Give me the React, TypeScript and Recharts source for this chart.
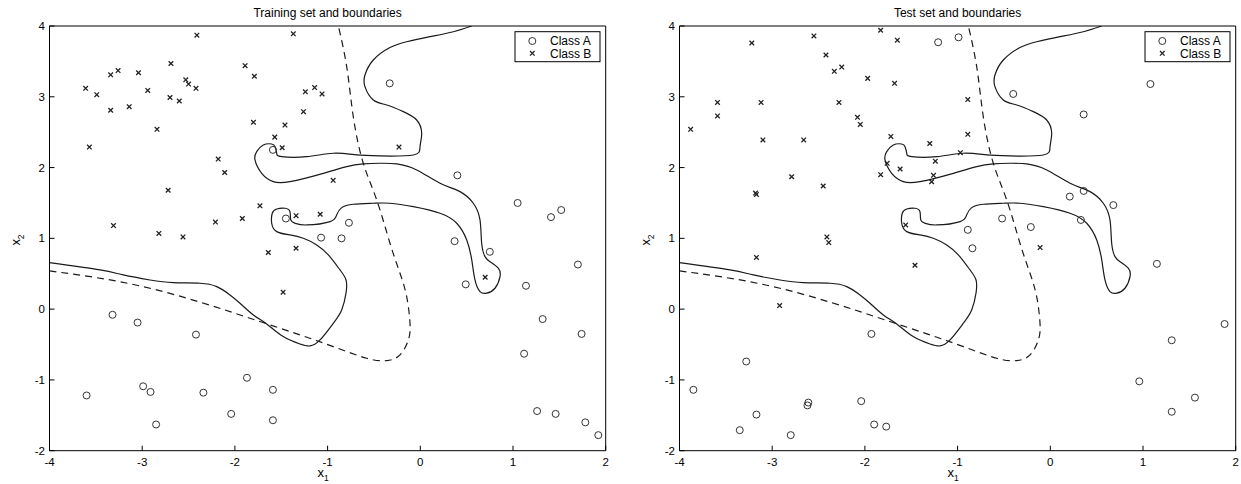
import React from 'react';
import { ComposedChart, Line, Scatter, XAxis, YAxis } from 'recharts';

const xTicks = [-4, -3, -2, -1, 0, 1, 2];
const yTicks = [-2, -1, 0, 1, 2, 3, 4];
const panelTitles = ['Training set and boundaries', 'Test set and boundaries'];
const legendLabels = ['Class A', 'Class B'];

const trainClassA: [number, number][] = [
  [-0.33, 3.19], [0.4, 1.89], [1.05, 1.5], [1.41, 1.3], [1.52, 1.4], [-0.77, 1.22], [-1.07, 1.01],
  [-0.85, 1.0], [0.37, 0.96], [0.75, 0.81], [0.49, 0.35], [1.14, 0.33], [1.7, 0.63], [1.32, -0.14],
  [1.74, -0.35], [1.12, -0.63], [1.26, -1.44], [1.46, -1.48], [1.78, -1.6], [1.92, -1.78],
  [-3.32, -0.08], [-3.05, -0.19], [-2.42, -0.36], [-3.6, -1.22], [-2.99, -1.09], [-2.91, -1.17],
  [-2.85, -1.63], [-2.34, -1.18], [-1.87, -0.97], [-2.04, -1.48], [-1.59, -1.14], [-1.59, -1.57],
  [-1.59, 2.25], [-1.45, 1.28],
];

const trainClassB: [number, number][] = [
  [-3.61, 3.12], [-3.49, 3.03], [-3.34, 3.31], [-3.26, 3.37], [-3.04, 3.34], [-3.34, 2.81],
  [-3.14, 2.86], [-2.94, 3.09], [-2.69, 3.47], [-2.7, 2.99], [-2.6, 2.94], [-2.53, 3.24],
  [-2.5, 3.18], [-2.42, 3.12], [-2.41, 3.87], [-2.84, 2.54], [-3.57, 2.29], [-2.72, 1.68],
  [-3.31, 1.18], [-2.82, 1.07], [-2.56, 1.02], [-2.21, 1.23], [-2.18, 2.12], [-2.11, 1.93],
  [-1.92, 1.28], [-1.89, 3.44], [-1.79, 3.29], [-1.8, 2.64], [-1.73, 1.46], [-1.57, 2.43],
  [-1.46, 2.6], [-1.49, 2.28], [-1.37, 3.89], [-1.26, 2.79], [-1.24, 3.07], [-1.14, 3.13],
  [-1.06, 3.04], [-1.34, 1.32], [-1.08, 1.34], [-1.34, 0.86], [-1.64, 0.8], [-1.48, 0.24],
  [-0.23, 2.29], [-0.94, 1.82], [0.7, 0.45],
];

const testClassA: [number, number][] = [
  [-1.21, 3.77], [-0.99, 3.84], [-0.4, 3.04], [0.36, 2.75], [1.08, 3.18], [0.21, 1.59], [0.36, 1.67],
  [0.68, 1.47], [0.33, 1.26], [-0.52, 1.28], [-0.21, 1.16], [-0.89, 1.12], [-0.84, 0.86], [1.15, 0.64],
  [1.88, -0.21], [1.31, -0.44], [0.96, -1.02], [1.56, -1.25], [1.31, -1.45], [-1.93, -0.35],
  [-3.28, -0.74], [-3.85, -1.14], [-3.17, -1.49], [-3.35, -1.71], [-2.61, -1.32], [-2.62, -1.36],
  [-2.8, -1.78], [-2.04, -1.3], [-1.9, -1.63], [-1.77, -1.66],
];

const testClassB: [number, number][] = [
  [-3.88, 2.54], [-3.59, 2.92], [-3.59, 2.73], [-3.22, 3.76], [-3.12, 2.92], [-3.1, 2.39],
  [-3.18, 1.64], [-3.17, 1.62], [-2.79, 1.87], [-2.66, 2.39], [-2.55, 3.86], [-2.42, 3.59],
  [-2.33, 3.36], [-2.25, 3.42], [-2.28, 2.92], [-2.45, 1.74], [-2.41, 1.02], [-2.39, 0.94],
  [-2.08, 2.71], [-2.05, 2.61], [-1.97, 3.26], [-1.83, 3.94], [-1.65, 3.8], [-1.68, 3.19],
  [-1.72, 2.44], [-1.83, 1.9], [-1.76, 2.06], [-1.62, 1.98], [-1.3, 2.34], [-1.24, 2.09],
  [-1.26, 1.89], [-1.28, 1.8], [-1.56, 1.19], [-3.17, 0.73], [-2.92, 0.05], [-1.46, 0.62],
  [-0.89, 2.96], [-0.89, 2.47], [-0.97, 2.21], [-0.11, 0.87],
];

const solidBoundary: [number, number][] = [
  [-4.0, 0.657], [-3.455, 0.554], [-3.204, 0.483], [-2.916, 0.412], [-2.666, 0.374], [-2.376, 0.366],
  [-2.196, 0.318], [-2.053, 0.201], [-1.945, 0.083], [-1.801, -0.082], [-1.657, -0.209],
  [-1.478, -0.388], [-1.298, -0.492], [-1.19, -0.52], [-1.082, -0.435], [-0.938, -0.199],
  [-0.848, -0.011], [-0.801, 0.229], [-0.801, 0.412], [-0.866, 0.554], [-0.992, 0.766],
  [-1.118, 0.907], [-1.262, 1.001], [-1.406, 1.048], [-1.549, 1.095], [-1.603, 1.213],
  [-1.597, 1.355], [-1.549, 1.415], [-1.46, 1.425], [-1.406, 1.377], [-1.398, 1.26],
  [-1.352, 1.213], [-1.225, 1.189], [-0.974, 1.236], [-0.902, 1.331], [-0.848, 1.434],
  [-0.723, 1.482], [-0.507, 1.496], [-0.327, 1.496], [-0.075, 1.448], [0.213, 1.355],
  [0.393, 1.213], [0.501, 0.977], [0.555, 0.695], [0.59, 0.412], [0.644, 0.247], [0.716, 0.225],
  [0.806, 0.295], [0.86, 0.459], [0.841, 0.578], [0.752, 0.671], [0.698, 0.742], [0.662, 0.931],
  [0.644, 1.26], [0.572, 1.496], [0.428, 1.66], [0.213, 1.778], [-0.039, 1.966], [-0.254, 2.051],
  [-0.435, 2.061], [-0.615, 2.051], [-0.794, 2.013], [-1.046, 1.919], [-1.406, 1.801],
  [-1.586, 1.801], [-1.711, 1.919], [-1.783, 2.107], [-1.765, 2.225], [-1.694, 2.319],
  [-1.603, 2.333], [-1.567, 2.295], [-1.549, 2.202], [-1.495, 2.154], [-1.225, 2.154],
  [-0.938, 2.202], [-0.686, 2.178], [-0.435, 2.164], [-0.075, 2.178], [-0.003, 2.295],
  [0.015, 2.484], [-0.039, 2.672], [-0.183, 2.79], [-0.362, 2.884], [-0.507, 2.955],
  [-0.597, 3.143], [-0.597, 3.308], [-0.507, 3.52], [-0.327, 3.696], [-0.147, 3.778],
  [0.105, 3.849], [0.356, 3.919], [0.554, 4.0],
];

const dashedBoundary: [number, number][] = [
  [-4.0, 0.54], [-2.916, 0.295], [-1.837, -0.129], [-1.298, -0.364], [-0.938, -0.53],
  [-0.578, -0.694], [-0.362, -0.727], [-0.219, -0.647], [-0.129, -0.435], [-0.111, -0.199],
  [-0.147, 0.177], [-0.219, 0.507], [-0.327, 0.931], [-0.47, 1.542], [-0.615, 2.061],
  [-0.723, 2.719], [-0.794, 3.425], [-0.874, 3.944], [-0.882, 4.0],
];

const toPts = (arr: [number, number][]) => arr.map(([x, y]) => ({ x, y }));

const INK = '#1a1a1a';
const FONT = '"Liberation Sans", Arial, Helvetica, sans-serif';

const CircleMarker = (props: any) => {
  const { cx, cy } = props;
  if (cx == null || cy == null) return null;
  return <circle cx={cx} cy={cy} r={3.5} fill="none" stroke="#333" strokeWidth={1} />;
};

const CrossMarker = (props: any) => {
  const { cx, cy } = props;
  if (cx == null || cy == null) return null;
  const s = 2.3;
  return (
    <path
      d={`M${cx - s},${cy - s}L${cx + s},${cy + s}M${cx - s},${cy + s}L${cx + s},${cy - s}`}
      stroke="#222"
      strokeWidth={1.3}
      fill="none"
    />
  );
};

const CW = 611;
const CH = 484;
const MARGIN = { top: 21, right: 1.3, bottom: 8.3, left: 9.5 };

function Panel({ left, title, classA, classB }: { left: number; title: string; classA: [number, number][]; classB: [number, number][] }) {
  const axisLine = { stroke: '#000', strokeWidth: 1 };
  return (
    <div style={{ position: 'absolute', left, top: 0, width: CW, height: CH }}>
      <ComposedChart width={CW} height={CH} margin={MARGIN}>
        <XAxis
          xAxisId="b"
          type="number"
          dataKey="x"
          domain={[-4, 2]}
          ticks={xTicks}
          allowDataOverflow
          interval={0}
          height={25}
          tickSize={-5}
          tickMargin={12}
          axisLine={axisLine}
          tickLine={axisLine}
          tick={{ fill: '#000', fontSize: 11.5, fontFamily: FONT }}
        />
        <XAxis
          xAxisId="t"
          orientation="top"
          type="number"
          dataKey="x"
          domain={[-4, 2]}
          ticks={xTicks}
          allowDataOverflow
          interval={0}
          height={5}
          tickSize={-5}
          axisLine={axisLine}
          tickLine={axisLine}
          tick={false}
        />
        <YAxis
          yAxisId="l"
          type="number"
          dataKey="y"
          domain={[-2, 4]}
          ticks={yTicks}
          allowDataOverflow
          interval={0}
          width={40}
          tickSize={-5}
          tickMargin={9.5}
          axisLine={axisLine}
          tickLine={axisLine}
          tick={{ fill: '#000', fontSize: 11.5, fontFamily: FONT }}
        />
        <YAxis
          yAxisId="r"
          orientation="right"
          type="number"
          dataKey="y"
          domain={[-2, 4]}
          ticks={yTicks}
          allowDataOverflow
          interval={0}
          width={4}
          tickSize={-5}
          axisLine={axisLine}
          tickLine={axisLine}
          tick={false}
        />
        <Line
          xAxisId="b"
          yAxisId="l"
          data={toPts(solidBoundary)}
          dataKey="y"
          type="natural"
          stroke={INK}
          strokeWidth={1.2}
          dot={false}
          activeDot={false}
          isAnimationActive={false}
        />
        <Line
          xAxisId="b"
          yAxisId="l"
          data={toPts(dashedBoundary)}
          dataKey="y"
          type="natural"
          stroke={INK}
          strokeWidth={1.2}
          strokeDasharray="7 5"
          dot={false}
          activeDot={false}
          isAnimationActive={false}
        />
        <Scatter xAxisId="b" yAxisId="l" data={toPts(classA)} dataKey="y" shape={CircleMarker} isAnimationActive={false} />
        <Scatter xAxisId="b" yAxisId="l" data={toPts(classB)} dataKey="y" shape={CrossMarker} isAnimationActive={false} />
      </ComposedChart>
      <svg width={CW} height={CH} style={{ position: 'absolute', left: 0, top: 0, pointerEvents: 'none' }}>
        <text x={327.6} y={17} textAnchor="middle" fontSize={12} fontFamily={FONT} fill="#000">{title}</text>
        <text x={323} y={477} textAnchor="middle" fontSize={13} fontFamily={FONT} fill="#000">
          x<tspan fontSize={8.5} dy={4}>1</tspan>
        </text>
        <text x={0} y={0} transform="translate(20,240) rotate(-90)" textAnchor="middle" fontSize={13} fontFamily={FONT} fill="#000">
          x<tspan fontSize={8.5} dy={4}>2</tspan>
        </text>
        <g transform="translate(515,31.7)">
          <rect x={0} y={0} width={85} height={30} fill="#fff" stroke="#000" strokeWidth={1} />
          <CircleMarker cx={17.3} cy={9.3} />
          <CrossMarker cx={17.3} cy={21.6} />
          <text x={35} y={13.5} fontSize={12} fontFamily={FONT} fill="#000">{legendLabels[0]}</text>
          <text x={35} y={26} fontSize={12} fontFamily={FONT} fill="#000">{legendLabels[1]}</text>
        </g>
      </svg>
    </div>
  );
}

export default function App() {
  return (
    <div style={{ position: 'absolute', left: 0, top: 0, width: 1241, height: 484, background: '#fff', fontFamily: FONT }}>
      <Panel left={0} title={panelTitles[0]} classA={trainClassA} classB={trainClassB} />
      <Panel left={630.2} title={panelTitles[1]} classA={testClassA} classB={testClassB} />
    </div>
  );
}
